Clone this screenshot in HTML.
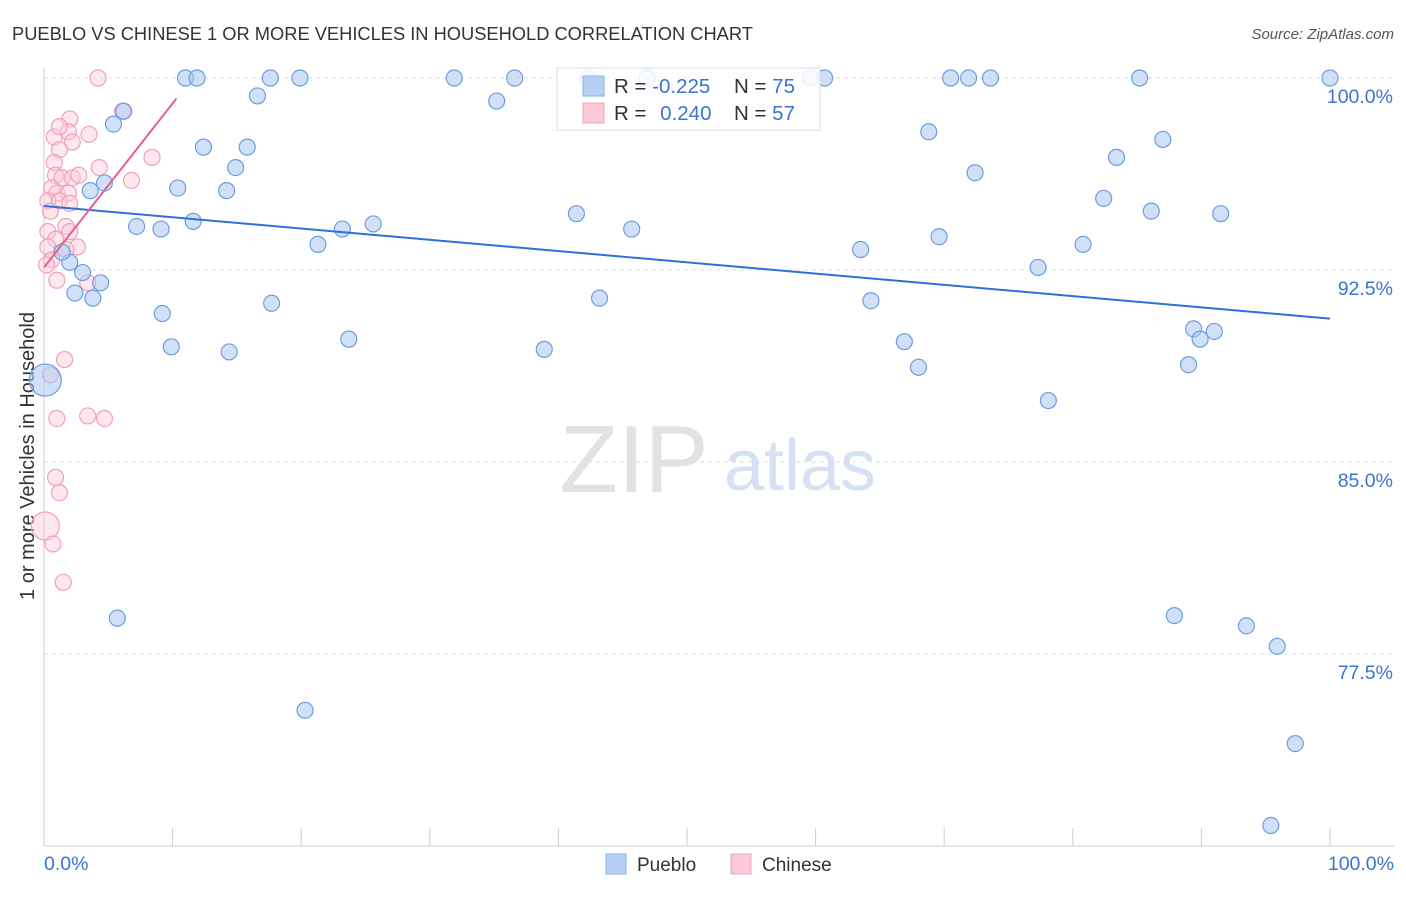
<!DOCTYPE html>
<html><head><meta charset="utf-8"><style>
body{margin:0;background:#fff;font-family:"Liberation Sans",sans-serif;}
svg text{font-family:"Liberation Sans",sans-serif;}
</style></head><body>
<svg id="c" width="1406" height="892" xmlns="http://www.w3.org/2000/svg">
<text x="12" y="40" font-size="18.3" fill="#333">PUEBLO VS CHINESE 1 OR MORE VEHICLES IN HOUSEHOLD CORRELATION CHART</text>
<text x="1394" y="39" font-size="15" fill="#555" text-anchor="end" font-style="italic">Source: ZipAtlas.com</text>
<text x="634" y="492" font-size="96" fill="#e2e2e2" font-family="Liberation Serif" text-anchor="middle">ZIP</text>
<text x="800" y="490" font-size="72" fill="#d6e2f3" text-anchor="middle">atlas</text>
<text x="34" y="456" font-size="20" fill="#333" text-anchor="middle" transform="rotate(-90 34 456)">1 or more Vehicles in Household</text>
<g id="grid"></g><g id="pts"></g><g id="lines"></g>
<g>
<rect x="557" y="68" width="263" height="62" fill="#fff" fill-opacity="0.85" stroke="#ddd"/>
<rect x="583" y="76" width="21" height="20" fill="#b5d0f3" stroke="#8ab1e8"/>
<rect x="583" y="103" width="21" height="20" fill="#fcc9d8" stroke="#f0a4bb"/>
<text x="614" y="93" font-size="20.5" fill="#333">R = <tspan fill="#3b73d1">-0.225</tspan></text>
<text x="734" y="93" font-size="20.5" fill="#333">N = <tspan fill="#3b73d1">75</tspan></text>
<text x="614" y="120" font-size="20.5" fill="#333">R = <tspan fill="#3b73d1" dx="8">0.240</tspan></text>
<text x="734" y="120" font-size="20.5" fill="#333">N = <tspan fill="#3b73d1">57</tspan></text>
</g>
<g>
<rect x="606" y="854" width="20" height="20" fill="#b5d0f3" stroke="#8ab1e8"/>
<text x="637" y="871" font-size="19" fill="#333">Pueblo</text>
<rect x="731" y="854" width="20" height="20" fill="#fcc9d8" stroke="#f0a4bb"/>
<text x="762" y="871" font-size="19" fill="#333">Chinese</text>
</g>
</svg>
<script>
const yTicks=[100,92.5,85,77.5];
const yTickLabels=["100.0%","92.5%","85.0%","77.5%"];
const xTickLabels=["0.0%","100.0%"];
const puebloX=[11.0,11.9,17.6,19.9,31.9,36.6,42.3,46.9,59.6,60.7,70.5,71.9,73.6,85.2,100,6.2,5.4,16.6,35.2,12.4,15.8,14.9,10.4,14.2,3.6,4.7,7.2,9.1,11.6,21.3,23.2,25.6,41.4,45.7,68.8,72.4,83.4,87.0,82.4,86.1,91.5,80.8,69.6,63.5,77.3,64.3,43.2,17.7,9.2,4.4,2.4,3.8,3.0,2.0,1.4,23.7,9.9,14.4,38.9,66.9,68.0,89.4,91.0,89.9,89.0,78.1,0.1,5.7,20.3,87.9,93.5,95.9,97.3,95.4];
const puebloY=[100,100,100,100,100,100,100,100,100,100,100,100,100,100,100,98.7,98.2,99.3,99.1,97.3,97.3,96.5,95.7,95.6,95.6,95.9,94.2,94.1,94.4,93.5,94.1,94.3,94.7,94.1,97.9,96.3,96.9,97.6,95.3,94.8,94.7,93.5,93.8,93.3,92.6,91.3,91.4,91.2,90.8,92.0,91.6,91.4,92.4,92.8,93.2,89.8,89.5,89.3,89.4,89.7,88.7,90.2,90.1,89.8,88.8,87.4,88.2,78.9,75.3,79.0,78.6,77.8,74.0,70.8];
const chineseX=[4.2,6.1,2.0,0.8,1.9,3.5,2.2,1.2,8.4,0.8,4.3,0.9,1.4,2.2,2.7,6.8,0.6,1.0,1.9,0.3,1.2,2.0,0.5,1.7,2.0,0.3,0.9,2.6,0.3,1.7,0.6,0.2,1.0,3.4,1.6,0.5,1.0,3.4,4.7,0.9,1.2,0.1,0.7,1.5,1.2];
const chineseY=[100,98.7,98.4,97.7,97.9,97.8,97.5,97.2,96.9,96.7,96.5,96.2,96.1,96.1,96.2,96.0,95.7,95.5,95.5,95.2,95.2,95.1,94.8,94.2,94.0,94.0,93.7,93.4,93.4,93.3,92.9,92.7,92.1,92.0,89.0,88.4,86.7,86.8,86.7,84.4,83.8,82.5,81.8,80.3,98.1];
const puebloTrend=[95.0,90.6];
const chineseTrend=[92.6,99.2];
const NS="http://www.w3.org/2000/svg";
const X0=44,X1=1330,Y100=78,PXPER=25.6;
const xs=v=>X0+(v/100)*(X1-X0);
const ys=v=>Y100+(100-v)*PXPER;
function mk(t,a,p){const e=document.createElementNS(NS,t);for(const k in a)e.setAttribute(k,a[k]);p.appendChild(e);return e;}
const g=document.getElementById('grid'),P=document.getElementById('pts'),L=document.getElementById('lines');
yTicks.forEach((v,i)=>{
 const l=mk('line',{x1:X0,x2:1394,y1:ys(v),y2:ys(v),stroke:'#ddd','stroke-dasharray':'4 4'},g);
 
 
 const t=mk('text',{x:1393,y:ys(v)+25,'font-size':19.5,fill:'#3b73d1','text-anchor':'end'},g);
 t.textContent=yTickLabels[i];
 
 
});
mk('line',{x1:X0,x2:X0,y1:68,y2:846,stroke:'#ccc'},g);
mk('line',{x1:X0,x2:1394,y1:846,y2:846,stroke:'#ccc'},g);
for(let i=0;i<=10;i++){const x=xs(i*10);const tk=mk('line',{x1:x,x2:x,y1:828,y2:846,stroke:'#ccc'},g);
 
 }
[[0,'start',44],[100,'end',1394]].forEach((d,i)=>{const t=mk('text',{x:d[2],y:870,'font-size':19.5,fill:'#3b73d1','text-anchor':d[1]},g);t.textContent=xTickLabels[i];
 
 });
chineseX.forEach((x,i)=>{const big=(i==41);const c=mk('circle',{cx:xs(x),cy:ys(chineseY[i]),r:big?14:8,fill:'#fcc9d8','fill-opacity':0.45,stroke:'#f0a0b8','stroke-width':1.2},P);
 
 });
puebloX.forEach((x,i)=>{const big=(i==66);const c=mk('circle',{cx:xs(x),cy:ys(puebloY[i]),r:big?16:8,fill:'#a9c8f1','fill-opacity':0.55,stroke:'#6d9de0','stroke-width':1.2},P);
 
 });
const pl=mk('line',{x1:xs(0),y1:ys(puebloTrend[0]),x2:xs(100),y2:ys(puebloTrend[1]),stroke:'#2f6fd6','stroke-width':2},L);


const cl=mk('line',{x1:xs(0),y1:ys(chineseTrend[0]),x2:xs(10.3),y2:ys(chineseTrend[1]),stroke:'#e8608a','stroke-width':2},L);


</script>
</body></html>
